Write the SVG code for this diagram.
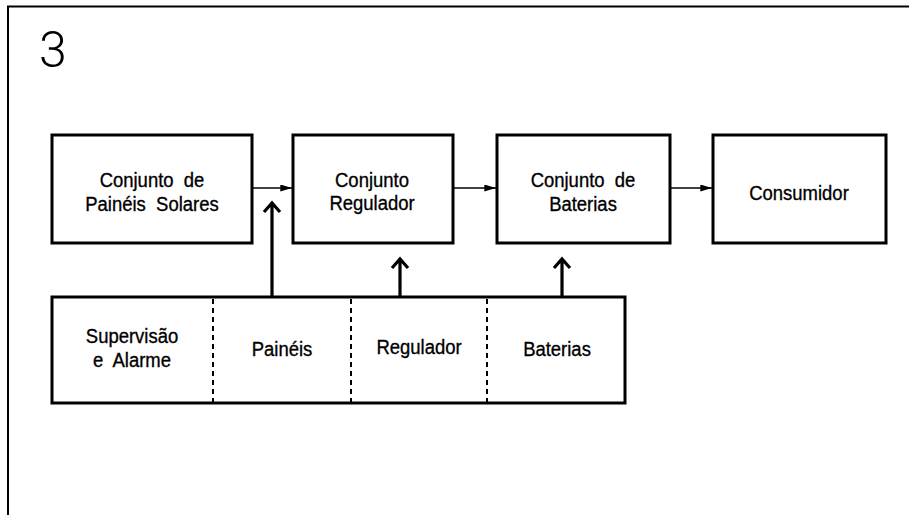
<svg xmlns="http://www.w3.org/2000/svg" width="909" height="515" viewBox="0 0 909 515">
<defs>
<style>
.box{fill:#fff;stroke:#000;stroke-width:3}
.t{font-family:"Liberation Sans",Arial,sans-serif;font-size:21px;fill:#000;stroke:#000;stroke-width:0.35;text-anchor:middle;white-space:pre}
.thin{stroke:#000;stroke-width:1.3;fill:none}
.thick{stroke:#000;stroke-width:3.2;fill:none}
.dash{stroke:#000;stroke-width:2;stroke-dasharray:5,4;fill:none}
</style>
<marker id="ah" viewBox="0 0 10 6" refX="10" refY="3" markerWidth="12" markerHeight="7" markerUnits="userSpaceOnUse" orient="auto">
<path d="M0,0 L10,3 L0,6 Z" fill="#000"/>
</marker>
</defs>
<rect width="909" height="515" fill="#fff"/>
<g id="frame">
<path d="M8,515 V6.5 H909" stroke="#000" stroke-width="2" fill="none"/>
<text x="39" y="67" font-family="Roboto,'Liberation Sans',Arial,sans-serif" font-weight="300" font-size="50" fill="#000">3</text>
</g>
<g id="n1">
<rect class="box" x="52" y="135" width="200" height="108"/>
<text class="t" xml:space="preserve" transform="translate(152,187) scale(0.88,1)">Conjunto  de</text>
<text class="t" xml:space="preserve" transform="translate(152,211) scale(0.88,1)">Painéis  Solares</text>
</g>
<g id="n2">
<rect class="box" x="293" y="135" width="160" height="108"/>
<text class="t" transform="translate(372,187) scale(0.88,1)">Conjunto</text>
<text class="t" transform="translate(372,210) scale(0.88,1)">Regulador</text>
</g>
<g id="n3">
<rect class="box" x="497" y="135" width="173" height="108"/>
<text class="t" xml:space="preserve" transform="translate(583,187) scale(0.88,1)">Conjunto  de</text>
<text class="t" transform="translate(583,211) scale(0.88,1)">Baterias</text>
</g>
<g id="n4">
<rect class="box" x="713" y="135" width="173" height="108"/>
<text class="t" transform="translate(799,200) scale(0.88,1)">Consumidor</text>
</g>
<g id="n5">
<rect class="box" x="52" y="297" width="573" height="106"/>
<path class="dash" d="M213,299 V402 M351,299 V402 M487,299 V402"/>
<text class="t" transform="translate(132,343) scale(0.88,1)">Supervisão</text>
<text class="t" xml:space="preserve" transform="translate(132,367) scale(0.88,1)">e  Alarme</text>
<text class="t" transform="translate(282,356) scale(0.88,1)">Painéis</text>
<text class="t" transform="translate(419,354) scale(0.88,1)">Regulador</text>
<text class="t" transform="translate(557,356) scale(0.88,1)">Baterias</text>
</g>
<g id="connectors">
<line class="thin" x1="253" y1="188" x2="292" y2="188" marker-end="url(#ah)"/>
<line class="thin" x1="454" y1="188" x2="496" y2="188" marker-end="url(#ah)"/>
<line class="thin" x1="671" y1="188" x2="712" y2="188" marker-end="url(#ah)"/>
<path class="thick" d="M272,296 V203 M264,212 L272,203 L280,212"/>
<path class="thick" d="M400,296 V259 M392,268 L400,259 L408,268"/>
<path class="thick" d="M562,296 V259 M554,268 L562,259 L570,268"/>
</g>
</svg>
